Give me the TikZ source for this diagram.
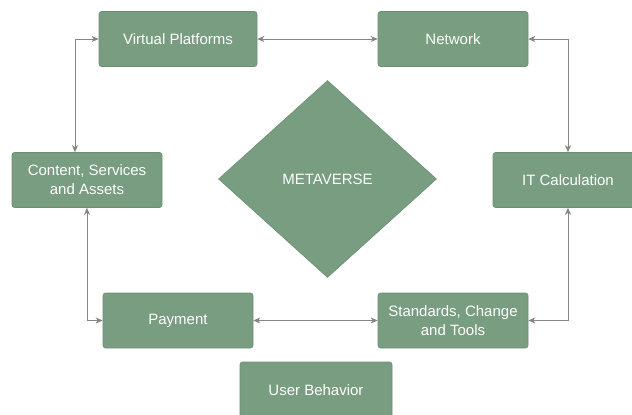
\documentclass[tikz,border=0pt]{standalone}
\usepackage{fontspec}
\setmainfont{Liberation Sans}
\usetikzlibrary{arrows.meta,shapes.geometric}
\definecolor{boxgreen}{HTML}{789D80}
\definecolor{boxedge}{HTML}{6C8F74}
\definecolor{linegray}{HTML}{858585}
\begin{document}
\begin{tikzpicture}[x=1pt,y=-1pt,
  box/.style={draw=boxedge,line width=0.6pt,fill=boxgreen,rounded corners=2.5pt,
    minimum width=150pt,minimum height=55pt,inner sep=0pt,text=white,
    align=center,font=\fontsize{15}{19}\selectfont},
  conn/.style={draw=linegray,line width=0.9pt,{Stealth[length=7pt,width=6pt,inset=2pt]}-{Stealth[length=7pt,width=6pt,inset=2pt]}}]
\useasboundingbox (0,0) rectangle (632,415);
\fill[white] (0,0) rectangle (632,415);
\node[box,minimum width=158pt] (vp) at (178,39) {Virtual Platforms};
\node[box] (net) at (453,39) {Network};
\node[box] (csa) at (87,180) {Content, Services\\and Assets};
\node[box] (it) at (568,180) {IT Calculation};
\node[box] (pay) at (178,320.5) {Payment};
\node[box] (std) at (453,320.5) {Standards, Change\\and Tools};
\node[box,minimum width=152pt,minimum height=56pt] (ub) at (316,390) {User Behavior};
\node[diamond,fill=boxgreen,draw=boxedge,line width=0.6pt,minimum width=218pt,minimum height=197pt,inner sep=0pt,text=white,font=\fontsize{15}{19}\selectfont] (meta) at (327.5,179) {METAVERSE};
\draw[conn] (vp.east) -- (net.west);
\draw[conn] (pay.east) -- (std.west);
\draw[conn] (vp.west) -| ([xshift=-12pt]csa.north);
\draw[conn] (net.east) -| (it.north);
\draw[conn] (csa.south) |- (pay.west);
\draw[conn] (std.east) -| (it.south);
\end{tikzpicture}
\end{document}
